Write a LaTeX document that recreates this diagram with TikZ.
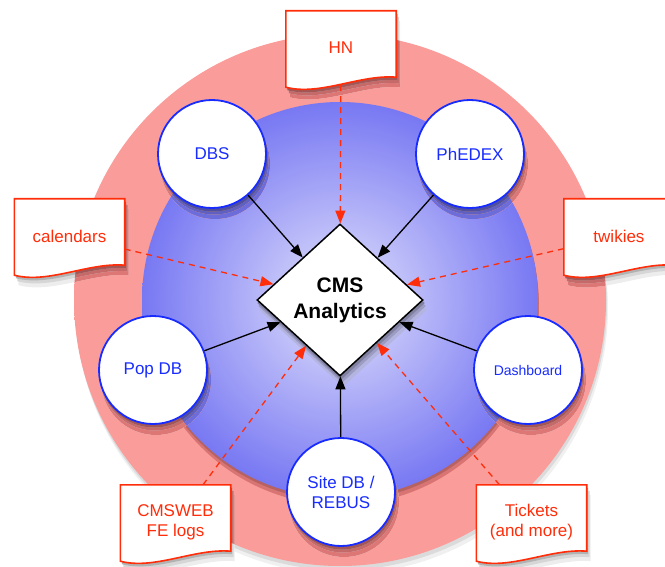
\documentclass[tikz,border=0pt]{standalone}
\usepackage{fontspec}
\setmainfont{Liberation Sans}
\usetikzlibrary{shapes.geometric,arrows.meta}
\definecolor{ringin}{RGB}{250,156,153}
\definecolor{ringout}{RGB}{246,132,131}
\definecolor{blueC}{RGB}{226,226,252}
\definecolor{blueE}{RGB}{120,120,243}
\definecolor{nodeblue}{RGB}{24,44,255}
\definecolor{docred}{RGB}{255,45,10}
\pgfdeclareradialshading{ringsh}{\pgfpoint{0bp}{0bp}}{color(0bp)=(ringin); color(36bp)=(ringin); color(50bp)=(ringout)}
\pgfdeclarelayer{back}
\pgfdeclarelayer{mid}
\pgfsetlayers{back,mid,main}
% shadow fill of level #1 along path #2, tinted by what lies beneath
\newcommand\shadowfill[2]{%
  \fill[shw#1] #2;
  \begin{scope}\clip (340,300) circle (266pt); \fill[shr#1] #2; \end{scope}
  \begin{scope}\clip (340,300) circle (198pt); \fill[shb#1] #2; \end{scope}}
\newcommand\circshadow[1]{%
  \shadowfill{1}{([xshift=3pt,yshift=-10pt]#1.center) circle (55pt)}
  \shadowfill{2}{([xshift=2pt,yshift=-6pt]#1.center) circle (54.5pt)}
  \shadowfill{3}{([xshift=1pt,yshift=-3pt]#1.center) circle (54.5pt)}}
% document outline of node #1 shifted by (#2,#3) pt
\newcommand\docpath[3]{([xshift=#2pt,yshift=#3pt]#1.north west) -- ([xshift=#2pt,yshift=#3pt]#1.north east) -- ([xshift=#2pt,yshift=#3pt+8pt]#1.south east)
    .. controls ([xshift=#2pt-36pt,yshift=#3pt+11pt]#1.south east) and ([xshift=#2pt+34pt,yshift=#3pt-11pt]#1.south west) .. ([xshift=#2pt,yshift=#3pt-2pt]#1.south west) -- cycle}
\newcommand\docshadow[1]{%
  \shadowfill{1}{\docpath{#1}{4}{-10}}
  \shadowfill{2}{\docpath{#1}{3}{-6}}
  \shadowfill{3}{\docpath{#1}{1.5}{-3}}}
\begin{document}
\begin{tikzpicture}[x=1pt,y=-1pt,
  shw1/.style={fill=black!7}, shw2/.style={fill=black!16}, shw3/.style={fill=black!30},
  shr1/.style={fill=ringout!90!black}, shr2/.style={fill=ringout!80!black}, shr3/.style={fill=ringout!66!black},
  shb1/.style={fill=blueE!90!black}, shb2/.style={fill=blueE!80!black}, shb3/.style={fill=blueE!66!black},
  src/.style={circle, draw=nodeblue, line width=1.8pt, fill=white, minimum size=108pt, inner sep=0pt,
    text=nodeblue, font=\fontsize{17}{20}\selectfont, align=center},
  doc/.style={minimum width=110pt, minimum height=74pt, inner sep=0pt, text=docred,
    font=\fontsize{17}{20}\selectfont, align=center},
  docline/.style={draw=docred, line width=1.6pt, fill=white},
  hub/.style={diamond, draw=black, line width=1.5pt, fill=white, minimum width=166pt, minimum height=152pt,
    inner sep=0pt, font=\bfseries\fontsize{21}{26}\selectfont, align=center},
  feed/.style={-{Triangle[length=13pt,width=10pt]}, line width=1.3pt, black},
  info/.style={-{Triangle[length=13pt,width=10pt]}, line width=1.3pt, docred, dash pattern=on 6pt off 5pt}
]
\useasboundingbox (0,0) rectangle (665,567);

\node[hub] (cms) at (340,300) {CMS\\Analytics};

\node[src] (dbs) at (212,154) {DBS};
\node[src] (phedex) at (470,154) {PhEDEX};
\node[src] (popdb) at (153,370) {Pop DB};
\node[src, font=\fontsize{14}{17}\selectfont] (dash) at (528,370) {Dashboard};
\node[src] (sitedb) at (341,492) {Site DB /\\REBUS};

\node[doc] (hn) at (341,48) {HN};
\node[doc] (cal) at (69.5,236) {calendars};
\node[doc] (twk) at (619,236) {twikies};
\node[doc] (web) at (175.5,522) {CMSWEB\\FE logs};
\node[doc] (tkt) at (531.5,522) {Tickets\\(and more)};

\begin{pgfonlayer}{back}
  \fill[black!6] (342,308) circle (266pt);
  \fill[black!14] (341,304) circle (266pt);
  \shade[shading=ringsh] (340,300) circle (266pt);
  \fill[ringout!88!black] (341,307) circle (198pt);
  \fill[ringout!74!black] (340.5,303) circle (198pt);
  \shade[inner color=blueC, outer color=blueE] (340,300) circle (198pt);
\end{pgfonlayer}

\begin{pgfonlayer}{mid}
  \circshadow{dbs}
  \circshadow{phedex}
  \circshadow{popdb}
  \circshadow{dash}
  \circshadow{sitedb}
  \fill[blueC!75!blueE!90!black] ([xshift=3pt,yshift=-10pt]cms.north) -- ([xshift=3pt,yshift=-10pt]cms.east) -- ([xshift=3pt,yshift=-10pt]cms.south) -- ([xshift=3pt,yshift=-10pt]cms.west) -- cycle;
  \fill[blueC!75!blueE!78!black] ([xshift=2pt,yshift=-6pt]cms.north) -- ([xshift=2pt,yshift=-6pt]cms.east) -- ([xshift=2pt,yshift=-6pt]cms.south) -- ([xshift=2pt,yshift=-6pt]cms.west) -- cycle;
  \fill[blueC!75!blueE!64!black] ([xshift=1pt,yshift=-3pt]cms.north) -- ([xshift=1pt,yshift=-3pt]cms.east) -- ([xshift=1pt,yshift=-3pt]cms.south) -- ([xshift=1pt,yshift=-3pt]cms.west) -- cycle;
  \docshadow{hn}
  \docshadow{cal}
  \docshadow{twk}
  \docshadow{web}
  \docshadow{tkt}
  \draw[docline] \docpath{hn}{0}{0};
  \draw[docline] \docpath{cal}{0}{0};
  \draw[docline] \docpath{twk}{0}{0};
  \draw[docline] \docpath{web}{0}{0};
  \draw[docline] \docpath{tkt}{0}{0};
\end{pgfonlayer}

\draw[feed] (dbs) -- (cms);
\draw[feed] (phedex) -- (cms);
\draw[feed] (popdb) -- (cms);
\draw[feed] (dash) -- (cms);
\draw[feed] (sitedb) -- (cms);

\draw[info] (hn) -- (cms);
\draw[info] (cal) -- (cms);
\draw[info] (twk) -- (cms);
\draw[info] (web) -- (cms);
\draw[info] (tkt) -- (cms);
\end{tikzpicture}
\end{document}
